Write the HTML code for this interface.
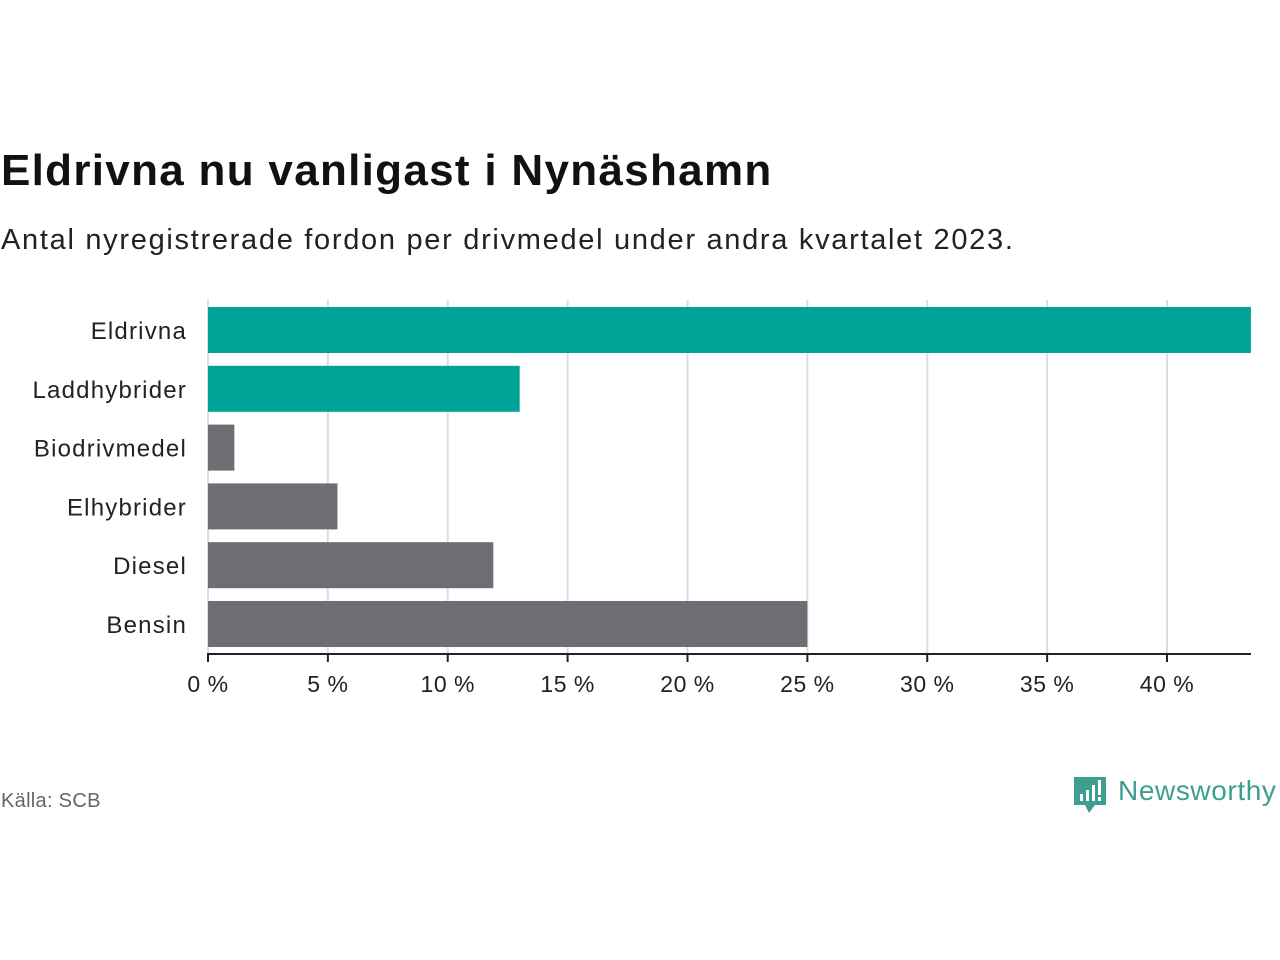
<!DOCTYPE html>
<html><head><meta charset="utf-8"><style>
body{margin:0;width:1280px;height:960px;background:#fff;font-family:"Liberation Sans",sans-serif;position:relative;overflow:hidden}
.t{position:absolute;white-space:nowrap}
</style></head><body>
<div class="t" style="left:1px;top:146px;font-size:44px;font-weight:bold;color:#111;letter-spacing:1.3px">Eldrivna nu vanligast i Nynäshamn</div>
<div class="t" style="left:1px;top:224px;font-size:29px;color:#222;letter-spacing:1.7px">Antal nyregistrerade fordon per drivmedel under andra kvartalet 2023.</div>
<svg id="chart" width="1280" height="720" style="position:absolute;left:0;top:0"></svg>
<div class="t" style="left:1px;top:790px;font-size:20px;color:#666;letter-spacing:0.3px">Källa: SCB</div>
<div style="position:absolute;left:1073px;top:777px">
<svg width="34" height="40" viewBox="0 0 34 40"><path d="M1 0H33V28H22L16 36L12 28H1Z" fill="#3d9e92"/><rect x="7" y="17" width="3" height="7" fill="#fff"/><rect x="13" y="13" width="3" height="11" fill="#fff"/><rect x="19" y="8" width="3" height="16" fill="#fff"/><rect x="25" y="3" width="3" height="15" fill="#fff"/><rect x="25" y="20" width="3" height="4" fill="#fff"/></svg>
<span class="t" style="left:45px;top:-2px;font-size:28px;color:#3d9e92;letter-spacing:0.6px">Newsworthy</span></div>
<script>
const categories=["Eldrivna","Laddhybrider","Biodrivmedel","Elhybrider","Diesel","Bensin"];
const values=[43.5,13.0,1.1,5.4,11.9,25.0];
const colors=["#00a398","#00a398","#6e6d73","#6e6d73","#6e6d73","#6e6d73"];
const ticks=[0,5,10,15,20,25,30,35,40];
const ns="http://www.w3.org/2000/svg",svg=document.getElementById('chart');
const x=v=>208+v*23.975, y=i=>307+i*58.8;
function mk(t,a){const e=document.createElementNS(ns,t);for(const k in a)e.setAttribute(k,a[k]);svg.appendChild(e);return e;}
ticks.forEach(t=>{
 const g=mk('line',{x1:x(t),x2:x(t),y1:300,y2:654,stroke:'#ddd','stroke-width':2});
 
 
 const tk=mk('line',{x1:x(t),x2:x(t),y1:654,y2:662,stroke:'#222','stroke-width':2});
 
 
 const l=mk('text',{x:x(t),y:692,'text-anchor':'middle','font-size':23,fill:'#222','letter-spacing':0.5});l.textContent=t+' %';
 
 
});
categories.forEach((c,i)=>{
 const r=mk('rect',{x:x(0),y:y(i),width:x(values[i])-x(0),height:46,fill:colors[i]});
 
 
 const l=mk('text',{x:187,y:y(i)+32,'text-anchor':'end','font-size':24,fill:'#222','letter-spacing':1.2});l.textContent=c;
 
 
});
const ax=mk('line',{x1:207,x2:1251,y1:654,y2:654,stroke:'#222','stroke-width':2});


</script>
</body></html>
